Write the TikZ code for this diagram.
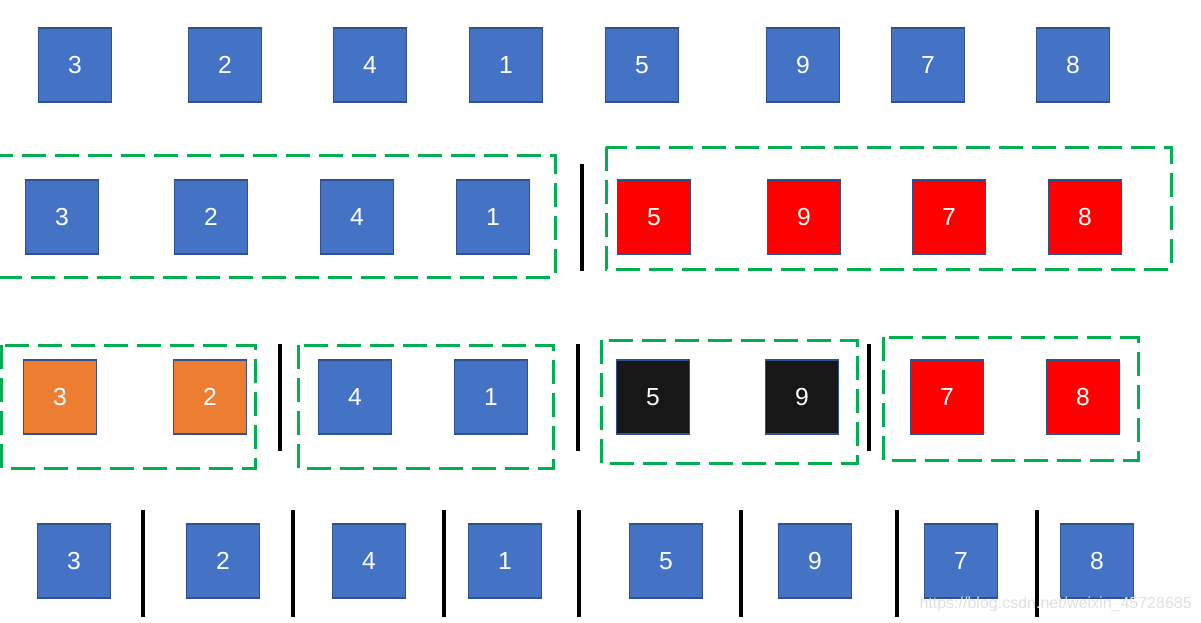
\documentclass[tikz,border=0pt]{standalone}
\usepackage{fontspec}
\setmainfont{Liberation Sans}
\definecolor{cblue}{HTML}{4472C4}
\definecolor{cbord}{HTML}{2F528F}
\definecolor{cred}{HTML}{FF0000}
\definecolor{corange}{HTML}{ED7D31}
\definecolor{cblack}{HTML}{171717}
\definecolor{cgreen}{HTML}{00B050}
\tikzset{
  sq/.style={draw=cbord, line width=0.8pt, minimum width=54.5pt, minimum height=55.5pt, inner sep=0pt, text=white, font=\fontsize{18.5}{20}\selectfont},
  sqb/.style={sq, fill=cblue},
  sqr/.style={sq, fill=cred},
  sqo/.style={sq, fill=corange},
  sqk/.style={sq, fill=cblack},
  grp/.style={draw=cgreen, line width=2.25pt, dash pattern=on 18pt off 6.75pt},
  bar/.style={draw=black, line width=3pt}
}
\begin{document}
\begin{tikzpicture}[x=0.75pt, y=-0.75pt]
\useasboundingbox (0,0) rectangle (1201,622);
\clip (0,0) rectangle (1201,622);
% row 1
\node[sqb] (a3) at (75,65) {3};
\node[sqb] (a2) at (225,65) {2};
\node[sqb] (a4) at (370,65) {4};
\node[sqb] (a1) at (506,65) {1};
\node[sqb] (a5) at (642,65) {5};
\node[sqb] (a9) at (803,65) {9};
\node[sqb] (a7) at (928,65) {7};
\node[sqb] (a8) at (1073,65) {8};
% row 2
\draw[grp] (-12,155) rectangle (555,277);
\draw[grp] (606,147) rectangle (1171,269);
\draw[bar] (582,164) -- (582,271);
\node[sqb] (b3) at (62,217) {3};
\node[sqb] (b2) at (211,217) {2};
\node[sqb] (b4) at (357,217) {4};
\node[sqb] (b1) at (493,217) {1};
\node[sqr] (b5) at (654,217) {5};
\node[sqr] (b9) at (804,217) {9};
\node[sqr] (b7) at (949,217) {7};
\node[sqr] (b8) at (1085,217) {8};
% row 3
\draw[grp] (1.5,345) rectangle (255,468);
\draw[grp] (298,345) rectangle (553,468);
\draw[grp] (601,340) rectangle (857,463);
\draw[grp] (883,337) rectangle (1138,460);
\draw[bar] (280,344) -- (280,451);
\draw[bar] (578,344) -- (578,451);
\draw[bar] (869,344) -- (869,451);
\node[sqo] (c3) at (60,397) {3};
\node[sqo] (c2) at (210,397) {2};
\node[sqb] (c4) at (355,397) {4};
\node[sqb] (c1) at (491,397) {1};
\node[sqk] (c5) at (653,397) {5};
\node[sqk] (c9) at (802,397) {9};
\node[sqr] (c7) at (947,397) {7};
\node[sqr] (c8) at (1083,397) {8};
% row 4
\foreach \x in {143,293,444,579,741,897,1037} \draw[bar] (\x,510) -- (\x,617);
\node[sqb] (d3) at (74,561) {3};
\node[sqb] (d2) at (223,561) {2};
\node[sqb] (d4) at (369,561) {4};
\node[sqb] (d1) at (505,561) {1};
\node[sqb] (d5) at (666,561) {5};
\node[sqb] (d9) at (815,561) {9};
\node[sqb] (d7) at (961,561) {7};
\node[sqb] (d8) at (1097,561) {8};
% watermark
\node[anchor=east, text=black!12, font=\fontsize{12}{14}\selectfont, inner sep=0pt] (wm) at (1192,604) {https://blog.csdn.net/weixin\_45728685};
\end{tikzpicture}
\end{document}
